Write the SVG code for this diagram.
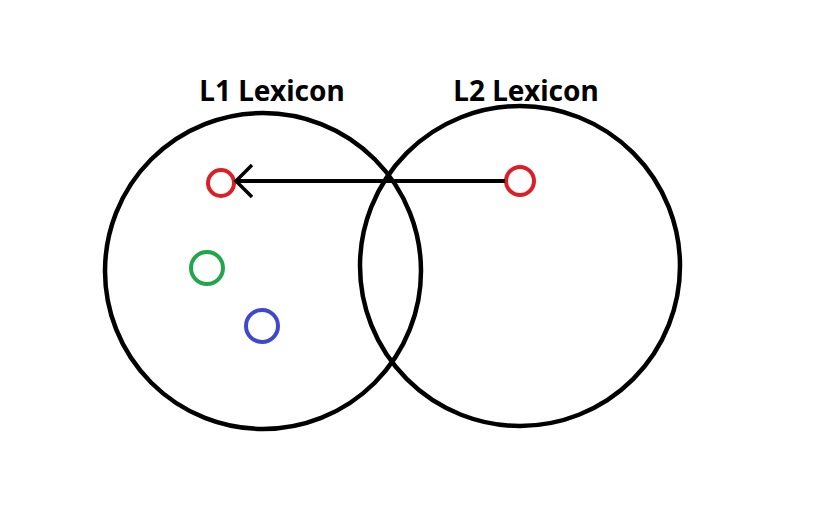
<svg xmlns="http://www.w3.org/2000/svg" width="829" height="532" viewBox="0 0 829 532">
<style>
.big{fill:none;stroke:#000;stroke-width:4.5}
.dot{fill:none;stroke-width:4}
.lbl{font-family:"Noto Sans","Liberation Sans",sans-serif;font-weight:bold;font-size:28px;fill:#000;text-anchor:middle}
</style>
<rect width="829" height="532" fill="#fff"/>
<g id="l1">
<circle class="big" cx="263" cy="271" r="158"/>
<text class="lbl" x="272" y="101">L1 Lexicon</text>
</g>
<g id="l2">
<circle class="big" cx="520" cy="266" r="160"/>
<text class="lbl" x="526" y="101">L2 Lexicon</text>
</g>
<g id="red1"><circle class="dot" stroke="#DC1F27" cx="221" cy="183" r="13"/></g>
<g id="red2"><circle class="dot" stroke="#DC1F27" cx="520" cy="181" r="14"/></g>
<g id="green"><circle class="dot" stroke="#22A64C" cx="207" cy="268" r="16"/></g>
<g id="blue"><circle class="dot" stroke="#3F48CC" cx="262" cy="326" r="16"/></g>
<g id="connectors">
<line x1="505" y1="181" x2="237" y2="181" stroke="#000" stroke-width="4"/>
<polyline points="252,165 236,181 252,197" fill="none" stroke="#000" stroke-width="3.5"/>
</g>
</svg>
